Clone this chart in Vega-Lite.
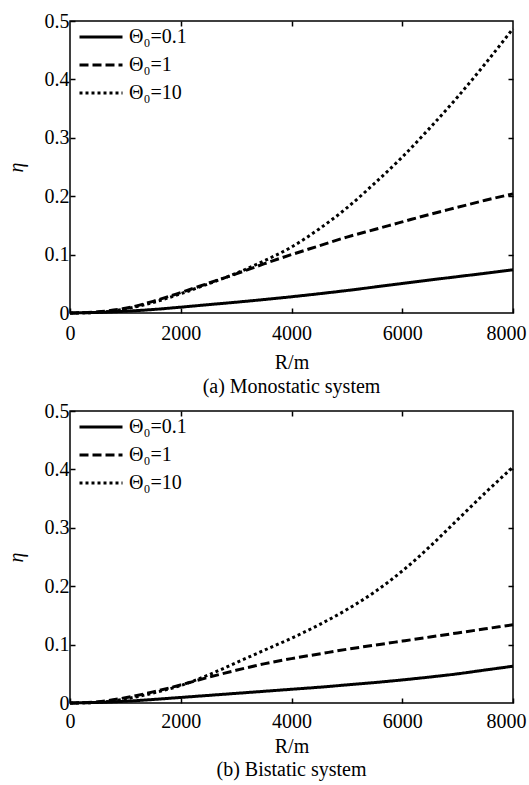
{
  "$schema": "https://vega.github.io/schema/vega-lite/v6.json",
  "padding": {"left": 5, "top": 10, "right": 4, "bottom": 0},
  "spacing": 2,
  "config": {
    "font": "Liberation Serif",
    "view": {"stroke": "black", "strokeWidth": 1.5},
    "axis": {
      "domain": false, "grid": false, "labelFlush": false,
      "tickSize": -5, "tickWidth": 1.5, "tickColor": "black",
      "labelFont": "Liberation Serif", "labelFontSize": 20, "labelColor": "black",
      "titleFont": "Liberation Serif", "titleFontSize": 20, "titleFontWeight": "normal", "titleColor": "black"
    },
    "legend": {
      "labelFont": "Liberation Serif", "labelFontSize": 20, "labelColor": "black"
    },
    "title": {"font": "Liberation Serif", "fontSize": 20, "fontWeight": "normal", "color": "black"}
  },
  "datasets": {
    "curves": [
      {"panel": "a", "theta": "Θ₀=0.1", "R": 0, "eta": 0},
      {"panel": "a", "theta": "Θ₀=0.1", "R": 500, "eta": 0.001},
      {"panel": "a", "theta": "Θ₀=0.1", "R": 1000, "eta": 0.003},
      {"panel": "a", "theta": "Θ₀=0.1", "R": 1500, "eta": 0.006},
      {"panel": "a", "theta": "Θ₀=0.1", "R": 2000, "eta": 0.010},
      {"panel": "a", "theta": "Θ₀=0.1", "R": 2500, "eta": 0.0143},
      {"panel": "a", "theta": "Θ₀=0.1", "R": 3000, "eta": 0.0185},
      {"panel": "a", "theta": "Θ₀=0.1", "R": 3500, "eta": 0.023},
      {"panel": "a", "theta": "Θ₀=0.1", "R": 4000, "eta": 0.0278},
      {"panel": "a", "theta": "Θ₀=0.1", "R": 4500, "eta": 0.033},
      {"panel": "a", "theta": "Θ₀=0.1", "R": 5000, "eta": 0.0385},
      {"panel": "a", "theta": "Θ₀=0.1", "R": 5500, "eta": 0.0445},
      {"panel": "a", "theta": "Θ₀=0.1", "R": 6000, "eta": 0.0505},
      {"panel": "a", "theta": "Θ₀=0.1", "R": 6500, "eta": 0.0565},
      {"panel": "a", "theta": "Θ₀=0.1", "R": 7000, "eta": 0.0623},
      {"panel": "a", "theta": "Θ₀=0.1", "R": 7500, "eta": 0.068},
      {"panel": "a", "theta": "Θ₀=0.1", "R": 8000, "eta": 0.074},
      {"panel": "a", "theta": "Θ₀=1", "R": 0, "eta": 0},
      {"panel": "a", "theta": "Θ₀=1", "R": 500, "eta": 0.002},
      {"panel": "a", "theta": "Θ₀=1", "R": 1000, "eta": 0.008},
      {"panel": "a", "theta": "Θ₀=1", "R": 1500, "eta": 0.020},
      {"panel": "a", "theta": "Θ₀=1", "R": 2000, "eta": 0.035},
      {"panel": "a", "theta": "Θ₀=1", "R": 2500, "eta": 0.051},
      {"panel": "a", "theta": "Θ₀=1", "R": 3000, "eta": 0.067},
      {"panel": "a", "theta": "Θ₀=1", "R": 3500, "eta": 0.084},
      {"panel": "a", "theta": "Θ₀=1", "R": 4000, "eta": 0.100},
      {"panel": "a", "theta": "Θ₀=1", "R": 4500, "eta": 0.115},
      {"panel": "a", "theta": "Θ₀=1", "R": 5000, "eta": 0.130},
      {"panel": "a", "theta": "Θ₀=1", "R": 5500, "eta": 0.143},
      {"panel": "a", "theta": "Θ₀=1", "R": 6000, "eta": 0.156},
      {"panel": "a", "theta": "Θ₀=1", "R": 6500, "eta": 0.169},
      {"panel": "a", "theta": "Θ₀=1", "R": 7000, "eta": 0.181},
      {"panel": "a", "theta": "Θ₀=1", "R": 7500, "eta": 0.193},
      {"panel": "a", "theta": "Θ₀=1", "R": 8000, "eta": 0.204},
      {"panel": "a", "theta": "Θ₀=10", "R": 0, "eta": 0},
      {"panel": "a", "theta": "Θ₀=10", "R": 500, "eta": 0.001},
      {"panel": "a", "theta": "Θ₀=10", "R": 1000, "eta": 0.007},
      {"panel": "a", "theta": "Θ₀=10", "R": 1500, "eta": 0.018},
      {"panel": "a", "theta": "Θ₀=10", "R": 2000, "eta": 0.033},
      {"panel": "a", "theta": "Θ₀=10", "R": 2500, "eta": 0.050},
      {"panel": "a", "theta": "Θ₀=10", "R": 3000, "eta": 0.068},
      {"panel": "a", "theta": "Θ₀=10", "R": 3500, "eta": 0.089},
      {"panel": "a", "theta": "Θ₀=10", "R": 4000, "eta": 0.113},
      {"panel": "a", "theta": "Θ₀=10", "R": 4500, "eta": 0.144},
      {"panel": "a", "theta": "Θ₀=10", "R": 5000, "eta": 0.180},
      {"panel": "a", "theta": "Θ₀=10", "R": 5500, "eta": 0.222},
      {"panel": "a", "theta": "Θ₀=10", "R": 6000, "eta": 0.267},
      {"panel": "a", "theta": "Θ₀=10", "R": 6500, "eta": 0.317},
      {"panel": "a", "theta": "Θ₀=10", "R": 7000, "eta": 0.370},
      {"panel": "a", "theta": "Θ₀=10", "R": 7500, "eta": 0.427},
      {"panel": "a", "theta": "Θ₀=10", "R": 8000, "eta": 0.487},
      {"panel": "b", "theta": "Θ₀=0.1", "R": 0, "eta": 0},
      {"panel": "b", "theta": "Θ₀=0.1", "R": 500, "eta": 0.001},
      {"panel": "b", "theta": "Θ₀=0.1", "R": 1000, "eta": 0.003},
      {"panel": "b", "theta": "Θ₀=0.1", "R": 1500, "eta": 0.006},
      {"panel": "b", "theta": "Θ₀=0.1", "R": 2000, "eta": 0.0095},
      {"panel": "b", "theta": "Θ₀=0.1", "R": 2500, "eta": 0.013},
      {"panel": "b", "theta": "Θ₀=0.1", "R": 3000, "eta": 0.0165},
      {"panel": "b", "theta": "Θ₀=0.1", "R": 3500, "eta": 0.020},
      {"panel": "b", "theta": "Θ₀=0.1", "R": 4000, "eta": 0.0235},
      {"panel": "b", "theta": "Θ₀=0.1", "R": 4500, "eta": 0.027},
      {"panel": "b", "theta": "Θ₀=0.1", "R": 5000, "eta": 0.031},
      {"panel": "b", "theta": "Θ₀=0.1", "R": 5500, "eta": 0.035},
      {"panel": "b", "theta": "Θ₀=0.1", "R": 6000, "eta": 0.0395},
      {"panel": "b", "theta": "Θ₀=0.1", "R": 6500, "eta": 0.0445},
      {"panel": "b", "theta": "Θ₀=0.1", "R": 7000, "eta": 0.050},
      {"panel": "b", "theta": "Θ₀=0.1", "R": 7500, "eta": 0.0565},
      {"panel": "b", "theta": "Θ₀=0.1", "R": 8000, "eta": 0.063},
      {"panel": "b", "theta": "Θ₀=1", "R": 0, "eta": 0},
      {"panel": "b", "theta": "Θ₀=1", "R": 500, "eta": 0.002},
      {"panel": "b", "theta": "Θ₀=1", "R": 1000, "eta": 0.009},
      {"panel": "b", "theta": "Θ₀=1", "R": 1500, "eta": 0.019},
      {"panel": "b", "theta": "Θ₀=1", "R": 2000, "eta": 0.031},
      {"panel": "b", "theta": "Θ₀=1", "R": 2500, "eta": 0.044},
      {"panel": "b", "theta": "Θ₀=1", "R": 3000, "eta": 0.056},
      {"panel": "b", "theta": "Θ₀=1", "R": 3500, "eta": 0.067},
      {"panel": "b", "theta": "Θ₀=1", "R": 4000, "eta": 0.076},
      {"panel": "b", "theta": "Θ₀=1", "R": 4500, "eta": 0.084},
      {"panel": "b", "theta": "Θ₀=1", "R": 5000, "eta": 0.092},
      {"panel": "b", "theta": "Θ₀=1", "R": 5500, "eta": 0.099},
      {"panel": "b", "theta": "Θ₀=1", "R": 6000, "eta": 0.106},
      {"panel": "b", "theta": "Θ₀=1", "R": 6500, "eta": 0.113},
      {"panel": "b", "theta": "Θ₀=1", "R": 7000, "eta": 0.120},
      {"panel": "b", "theta": "Θ₀=1", "R": 7500, "eta": 0.127},
      {"panel": "b", "theta": "Θ₀=1", "R": 8000, "eta": 0.134},
      {"panel": "b", "theta": "Θ₀=10", "R": 0, "eta": 0},
      {"panel": "b", "theta": "Θ₀=10", "R": 500, "eta": 0.001},
      {"panel": "b", "theta": "Θ₀=10", "R": 1000, "eta": 0.007},
      {"panel": "b", "theta": "Θ₀=10", "R": 1500, "eta": 0.017},
      {"panel": "b", "theta": "Θ₀=10", "R": 2000, "eta": 0.030},
      {"panel": "b", "theta": "Θ₀=10", "R": 2500, "eta": 0.048},
      {"panel": "b", "theta": "Θ₀=10", "R": 3000, "eta": 0.069},
      {"panel": "b", "theta": "Θ₀=10", "R": 3500, "eta": 0.090},
      {"panel": "b", "theta": "Θ₀=10", "R": 4000, "eta": 0.111},
      {"panel": "b", "theta": "Θ₀=10", "R": 4500, "eta": 0.134},
      {"panel": "b", "theta": "Θ₀=10", "R": 5000, "eta": 0.160},
      {"panel": "b", "theta": "Θ₀=10", "R": 5500, "eta": 0.190},
      {"panel": "b", "theta": "Θ₀=10", "R": 6000, "eta": 0.226},
      {"panel": "b", "theta": "Θ₀=10", "R": 6500, "eta": 0.268},
      {"panel": "b", "theta": "Θ₀=10", "R": 7000, "eta": 0.314},
      {"panel": "b", "theta": "Θ₀=10", "R": 7500, "eta": 0.360},
      {"panel": "b", "theta": "Θ₀=10", "R": 8000, "eta": 0.404}
    ]
  },
  "resolve": {"scale": {"strokeDash": "independent"}, "legend": {"strokeDash": "independent"}},
  "vconcat": [
    {
      "width": 443, "height": 292,
      "title": {"text": "(a) Monostatic system", "orient": "bottom", "offset": 5},
      "data": {"name": "curves"},
      "transform": [{"filter": "datum.panel === 'a'"}],
      "resolve": {"axis": {"x": "independent", "y": "independent"}},
      "layer": [
        {
          "mark": {"type": "line", "color": "black", "strokeWidth": 3, "interpolate": "monotone"},
          "encoding": {
            "x": {"field": "R", "type": "quantitative", "scale": {"domain": [0, 8000], "nice": false},
                  "axis": {"orient": "bottom", "values": [0, 2000, 4000, 6000, 8000], "format": "d", "title": "R/m", "labelPadding": 15, "titlePadding": 9,
                           "labelOffset": {"condition": {"test": "datum.value == 8000", "value": -7}, "value": 0}}},
            "y": {"field": "eta", "type": "quantitative", "scale": {"domain": [0, 0.5], "nice": false},
                  "axis": {"orient": "left", "values": [0, 0.1, 0.2, 0.3, 0.4, 0.5], "format": "~g", "title": "η", "titleFontStyle": "italic", "titleFontSize": 20, "titleAngle": -90, "labelPadding": 6, "titlePadding": 18}},
            "strokeDash": {"field": "theta", "type": "nominal",
              "scale": {"domain": ["Θ₀=0.1", "Θ₀=1", "Θ₀=10"], "range": [[1, 0], [9, 4], [3, 3]]},
              "legend": {"title": null, "orient": "none", "legendX": 8, "legendY": 2, "padding": 0, "symbolType": "stroke", "symbolSize": 1849, "symbolStrokeWidth": 3, "symbolStrokeColor": "black", "rowPadding": 0, "clipHeight": 28, "labelOffset": 5}}
          }
        },
        {
          "mark": {"type": "line", "opacity": 0},
          "encoding": {
            "x": {"field": "R", "type": "quantitative", "axis": {"orient": "top", "values": [2000, 4000, 6000], "labels": false, "title": null}},
            "y": {"field": "eta", "type": "quantitative", "axis": {"orient": "right", "values": [0.1, 0.2, 0.3, 0.4], "labels": false, "title": null}},
            "detail": {"field": "theta"}
          }
        }
      ]
    },
    {
      "width": 443, "height": 292,
      "title": {"text": "(b) Bistatic system", "orient": "bottom", "offset": 4},
      "data": {"name": "curves"},
      "transform": [{"filter": "datum.panel === 'b'"}],
      "resolve": {"axis": {"x": "independent", "y": "independent"}},
      "layer": [
        {
          "mark": {"type": "line", "color": "black", "strokeWidth": 3, "interpolate": "monotone"},
          "encoding": {
            "x": {"field": "R", "type": "quantitative", "scale": {"domain": [0, 8000], "nice": false},
                  "axis": {"orient": "bottom", "values": [0, 2000, 4000, 6000, 8000], "format": "d", "title": "R/m", "labelPadding": 13, "titlePadding": 5,
                           "labelOffset": {"condition": {"test": "datum.value == 8000", "value": -7}, "value": 0}}},
            "y": {"field": "eta", "type": "quantitative", "scale": {"domain": [0, 0.5], "nice": false},
                  "axis": {"orient": "left", "values": [0, 0.1, 0.2, 0.3, 0.4, 0.5], "format": "~g", "title": "η", "titleFontStyle": "italic", "titleFontSize": 20, "titleAngle": -90, "labelPadding": 6, "titlePadding": 18}},
            "strokeDash": {"field": "theta", "type": "nominal",
              "scale": {"domain": ["Θ₀=0.1", "Θ₀=1", "Θ₀=10"], "range": [[1, 0], [9, 4], [3, 3]]},
              "legend": {"title": null, "orient": "none", "legendX": 8, "legendY": 2, "padding": 0, "symbolType": "stroke", "symbolSize": 1849, "symbolStrokeWidth": 3, "symbolStrokeColor": "black", "rowPadding": 0, "clipHeight": 28, "labelOffset": 5}}
          }
        },
        {
          "mark": {"type": "line", "opacity": 0},
          "encoding": {
            "x": {"field": "R", "type": "quantitative", "axis": {"orient": "top", "values": [2000, 4000, 6000], "labels": false, "title": null}},
            "y": {"field": "eta", "type": "quantitative", "axis": {"orient": "right", "values": [0.1, 0.2, 0.3, 0.4], "labels": false, "title": null}},
            "detail": {"field": "theta"}
          }
        }
      ]
    }
  ]
}
